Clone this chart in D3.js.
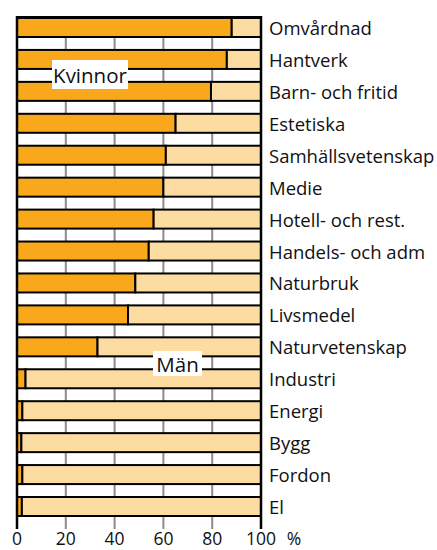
<html>
    <head>
        <script src="https://d3js.org/d3.v7.min.js"></script>
        <style>
            body { margin: 0; background: white; }
            text { font-family: "Open Sans", sans-serif; fill: #111; }
        </style>
    </head>
    <body>
        <div id="chart"></div>
        <script>
            // program areas, share of women in percent (men = rest)
            const categories = ["Omvårdnad", "Hantverk", "Barn- och fritid", "Estetiska",
                                "Samhällsvetenskap", "Medie", "Hotell- och rest.", "Handels- och adm",
                                "Naturbruk", "Livsmedel", "Naturvetenskap", "Industri",
                                "Energi", "Bygg", "Fordon", "El"];
            const womenShare = [88, 86, 79.5, 65, 61, 60, 56, 54, 48.5, 45.5, 33, 3.5, 2.2, 1.8, 2.2, 2];
            const xTicks = [0, 20, 40, 60, 80, 100];

            const width = 437;
            const height = 550;
            const plot = {left: 17, right: 261, top: 18, bottom: 516};

            const data = categories.map((c, i) => ({cat: c, women: womenShare[i]}));

            const svg = d3.select("#chart").append("svg")
                          .attr("width", width)
                          .attr("height", height);

            const xScale = d3.scaleLinear()
                             .domain([0, 100])
                             .range([plot.left, plot.right]);
            const yScale = d3.scaleBand()
                             .domain(categories)
                             .range([plot.top, plot.bottom])
                             .paddingInner(0.405)
                             .paddingOuter(0);

            // gridlines (behind bars)
            svg.append("g").selectAll("line").data(xTicks.slice(1, -1))
               .join("line")
               .attr("x1", d => xScale(d)).attr("x2", d => xScale(d))
               .attr("y1", plot.top).attr("y2", plot.bottom + 13)
               .attr("stroke", "#8c8c8c")
               .attr("stroke-width", 2);

            // women part
            svg.append("g").selectAll("rect").data(data)
               .join("rect")
               .attr("x", xScale(0))
               .attr("y", d => yScale(d.cat))
               .attr("width", d => xScale(d.women) - xScale(0))
               .attr("height", yScale.bandwidth())
               .attr("fill", "#f9a71b")
               .attr("stroke", "black")
               .attr("stroke-width", 2);

            // men part
            svg.append("g").selectAll("rect").data(data)
               .join("rect")
               .attr("x", d => xScale(d.women))
               .attr("y", d => yScale(d.cat))
               .attr("width", d => xScale(100) - xScale(d.women))
               .attr("height", yScale.bandwidth())
               .attr("fill", "#fddca2")
               .attr("stroke", "black")
               .attr("stroke-width", 2);

            // frame: top line and the 0 / 100 edges going down to the axis
            svg.append("line")
               .attr("x1", xScale(0) - 1).attr("x2", xScale(100) + 1)
               .attr("y1", plot.top - 1).attr("y2", plot.top - 1)
               .attr("stroke", "black").attr("stroke-width", 2);
            svg.append("g").selectAll("line").data([0, 100])
               .join("line")
               .attr("x1", d => xScale(d)).attr("x2", d => xScale(d))
               .attr("y1", plot.top - 2).attr("y2", plot.bottom + 13)
               .attr("stroke", "black")
               .attr("stroke-width", 2.5);

            // x tick labels
            svg.append("g").selectAll("text").data(xTicks)
               .join("text")
               .attr("x", d => xScale(d))
               .attr("y", 545)
               .attr("text-anchor", "middle")
               .style("font-size", "17.5px")
               .text(d => d);
            svg.append("text")
               .attr("x", 294)
               .attr("y", 545)
               .attr("text-anchor", "middle")
               .style("font-size", "17.5px")
               .text("%");

            // category labels
            svg.append("g").selectAll("text").data(categories)
               .join("text")
               .attr("x", 269)
               .attr("y", d => yScale(d) + yScale.bandwidth() / 2)
               .attr("dominant-baseline", "central")
               .style("font-size", "18.5px")
               .text(d => d);

            // series labels in white boxes
            const seriesLabels = [
                {name: "Kvinnor", x: 52, y: 60, w: 76, h: 29},
                {name: "Män", x: 153, y: 351, w: 49, h: 25}
            ];
            seriesLabels.forEach(l => {
                svg.append("rect")
                   .attr("x", l.x).attr("y", l.y)
                   .attr("width", l.w).attr("height", l.h)
                   .attr("fill", "white");
                svg.append("text")
                   .attr("x", l.x + l.w / 2)
                   .attr("y", l.y + l.h / 2)
                   .attr("text-anchor", "middle")
                   .attr("dominant-baseline", "central")
                   .style("font-size", "20.5px")
                   .text(l.name);
            });
        </script>
    </body>
</html>
